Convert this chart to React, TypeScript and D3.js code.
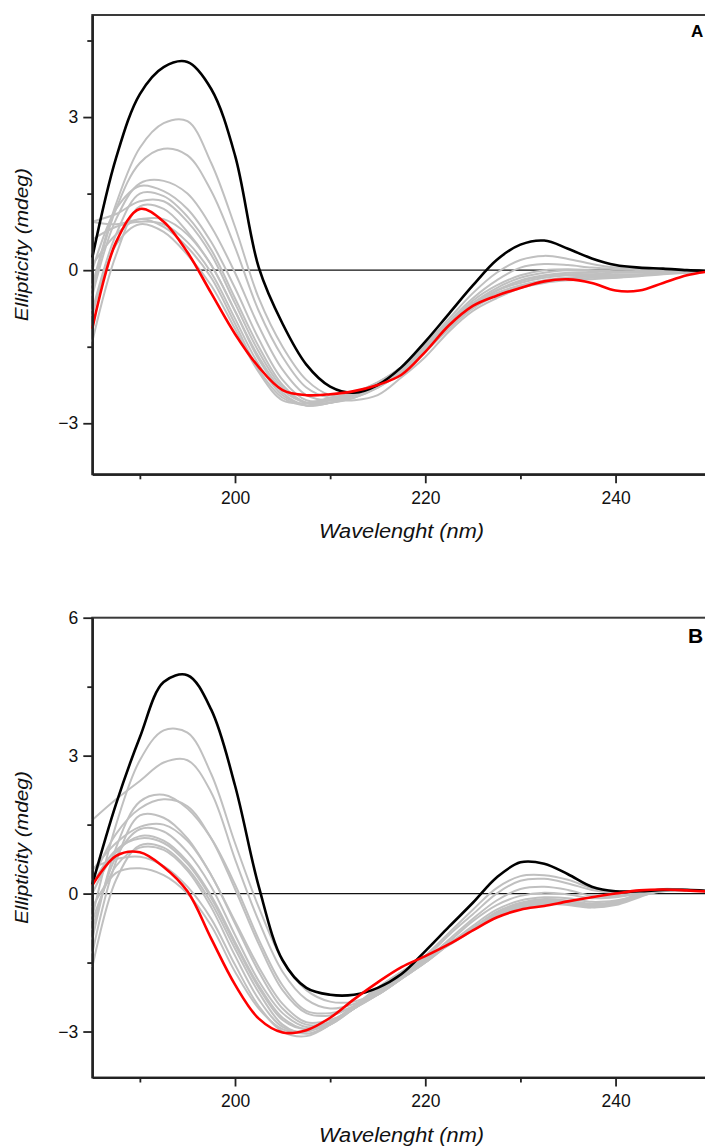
import { useEffect, useRef } from 'react';
import * as d3 from 'd3';

// wavelength grid (nm) shared by every spectrum
const wavelengths = [185, 187.5, 190, 192.5, 195, 197.5, 200, 202.5, 205, 207.5, 210, 212.5, 215, 217.5, 220, 222.5, 225, 227.5, 230, 232.5, 235, 237.5, 240, 242.5, 245, 247.5, 250];

// panel A
const blackA = [0.25, 2.2, 3.45, 3.98, 4.08, 3.55, 2.25, 0.05, -1.05, -1.85, -2.28, -2.4, -2.25, -1.9, -1.4, -0.85, -0.3, 0.2, 0.5, 0.58, 0.42, 0.23, 0.1, 0.05, 0.03, 0.0, -0.02];
const redA = [-1.15, 0.55, 1.2, 0.95, 0.35, -0.45, -1.25, -1.9, -2.35, -2.45, -2.43, -2.37, -2.25, -2.05, -1.6, -1.08, -0.7, -0.5, -0.35, -0.22, -0.18, -0.25, -0.4, -0.4, -0.25, -0.1, -0.02];
const grayA1 = [-0.3, 1.3, 2.4, 2.88, 2.92, 2.1, 0.85, -0.55, -1.5, -2.15, -2.45, -2.45, -2.25, -1.9, -1.45, -0.95, -0.45, -0.05, 0.2, 0.28, 0.22, 0.12, 0.05, 0.02, 0.0, -0.02, -0.03];
const grayA2 = [-0.4, 1.2, 2.1, 2.38, 2.25, 1.55, 0.45, -0.8, -1.7, -2.3, -2.5, -2.45, -2.25, -1.9, -1.5, -1.0, -0.55, -0.2, 0.05, 0.12, 0.1, 0.05, 0.02, 0.0, -0.02, -0.03, -0.03];
const grayA3 = [-0.5, 1.0, 1.7, 1.75, 1.5, 0.85, -0.05, -1.1, -1.95, -2.45, -2.55, -2.45, -2.25, -1.95, -1.55, -1.05, -0.6, -0.3, -0.1, 0.0, 0.02, 0.0, -0.02, -0.03, -0.04, -0.04, -0.03];
const grayA4 = [0.0, 1.2, 1.65, 1.55, 1.2, 0.55, -0.35, -1.35, -2.15, -2.55, -2.55, -2.45, -2.25, -1.95, -1.55, -1.1, -0.65, -0.35, -0.15, -0.05, 0.0, -0.02, -0.05, -0.05, -0.05, -0.04, -0.03];
const grayA5 = [-0.8, 0.7, 1.5, 1.45, 1.05, 0.4, -0.55, -1.5, -2.25, -2.6, -2.6, -2.5, -2.3, -2.0, -1.6, -1.1, -0.7, -0.4, -0.2, -0.1, -0.05, -0.05, -0.08, -0.08, -0.05, -0.03, -0.02];
const grayA6 = [0.95, 1.1, 1.35, 1.35, 0.95, 0.3, -0.65, -1.6, -2.3, -2.6, -2.6, -2.45, -2.25, -1.95, -1.55, -1.1, -0.7, -0.4, -0.22, -0.12, -0.08, -0.08, -0.1, -0.1, -0.06, -0.04, -0.03];
const grayA7 = [-1.4, 0.3, 1.25, 1.2, 0.75, 0.1, -0.8, -1.7, -2.35, -2.6, -2.55, -2.4, -2.2, -1.9, -1.5, -1.05, -0.65, -0.4, -0.25, -0.15, -0.1, -0.1, -0.12, -0.1, -0.07, -0.04, -0.02];
const grayA8 = [0.95, 0.9, 1.0, 1.0, 0.7, 0.1, -0.8, -1.75, -2.4, -2.65, -2.6, -2.45, -2.25, -1.95, -1.55, -1.1, -0.7, -0.45, -0.3, -0.2, -0.15, -0.12, -0.12, -0.1, -0.06, -0.04, -0.02];
const grayA9 = [0.6, 0.85, 0.95, 0.9, 0.55, -0.05, -0.95, -1.85, -2.45, -2.65, -2.6, -2.5, -2.3, -2.0, -1.6, -1.15, -0.75, -0.5, -0.32, -0.22, -0.18, -0.15, -0.15, -0.1, -0.06, -0.04, -0.02];
const grayA10 = [0.1, 0.7, 1.0, 0.85, 0.45, -0.15, -1.05, -1.95, -2.5, -2.65, -2.55, -2.55, -2.45, -2.1, -1.7, -1.2, -0.8, -0.55, -0.35, -0.25, -0.2, -0.18, -0.15, -0.12, -0.08, -0.05, -0.03];
const grayA11 = [-0.9, 0.5, 0.9, 0.75, 0.3, -0.3, -1.15, -2.0, -2.55, -2.6, -2.5, -2.4, -2.2, -1.9, -1.5, -1.05, -0.65, -0.45, -0.3, -0.2, -0.15, -0.12, -0.12, -0.1, -0.06, -0.04, -0.02];

// panel B
const blackB = [0.2, 1.95, 3.4, 4.6, 4.75, 4.0, 2.35, 0.15, -1.45, -2.05, -2.2, -2.2, -2.05, -1.75, -1.25, -0.72, -0.2, 0.35, 0.68, 0.65, 0.42, 0.15, 0.05, 0.05, 0.08, 0.08, 0.05];
const redB = [0.18, 0.82, 0.9, 0.58, 0.05, -0.98, -1.98, -2.72, -3.02, -2.97, -2.7, -2.3, -1.93, -1.6, -1.36, -1.1, -0.8, -0.52, -0.35, -0.27, -0.17, -0.08, 0.0, 0.07, 0.09, 0.07, 0.04];
const grayB1 = [-0.5, 1.5, 2.9, 3.55, 3.5, 2.6, 1.1, -0.3, -1.45, -2.1, -2.35, -2.35, -2.15, -1.8, -1.35, -0.85, -0.35, 0.12, 0.38, 0.4, 0.3, 0.12, 0.05, 0.05, 0.08, 0.08, 0.05];
const grayB2 = [1.6, 2.05, 2.45, 2.85, 2.9, 2.2, 0.75, -0.6, -1.7, -2.3, -2.5, -2.4, -2.15, -1.8, -1.4, -0.9, -0.45, 0.0, 0.28, 0.32, 0.22, 0.08, 0.02, 0.05, 0.08, 0.08, 0.05];
const grayB3 = [-1.0, 1.0, 2.0, 2.15, 1.85, 1.2, 0.2, -1.0, -2.0, -2.55, -2.6, -2.45, -2.2, -1.85, -1.45, -1.0, -0.55, -0.15, 0.1, 0.15, 0.08, -0.05, -0.05, 0.02, 0.06, 0.07, 0.05];
const grayB4 = [0.3, 1.3, 1.85, 2.05, 1.9, 1.2, 0.1, -1.1, -2.1, -2.6, -2.65, -2.45, -2.2, -1.85, -1.5, -1.05, -0.6, -0.25, -0.05, 0.02, -0.02, -0.1, -0.08, 0.0, 0.05, 0.07, 0.05];
const grayB5 = [-1.3, 0.7, 1.7, 1.65, 1.2, 0.4, -0.6, -1.6, -2.4, -2.8, -2.75, -2.5, -2.2, -1.85, -1.5, -1.1, -0.7, -0.35, -0.15, -0.08, -0.1, -0.18, -0.15, -0.05, 0.05, 0.07, 0.05];
const grayB6 = [0.5, 1.1, 1.45, 1.5, 1.15, 0.4, -0.65, -1.7, -2.5, -2.85, -2.8, -2.5, -2.2, -1.85, -1.5, -1.1, -0.75, -0.4, -0.2, -0.12, -0.15, -0.22, -0.18, -0.05, 0.06, 0.08, 0.05];
const grayB7 = [-0.8, 0.8, 1.4, 1.35, 0.9, 0.15, -0.9, -1.9, -2.6, -2.9, -2.8, -2.5, -2.15, -1.8, -1.45, -1.1, -0.75, -0.42, -0.22, -0.15, -0.18, -0.25, -0.2, -0.05, 0.07, 0.08, 0.05];
const grayB8 = [0.0, 0.9, 1.25, 1.15, 0.7, -0.05, -1.05, -2.0, -2.7, -2.95, -2.85, -2.5, -2.15, -1.8, -1.45, -1.1, -0.75, -0.45, -0.25, -0.18, -0.2, -0.28, -0.22, -0.05, 0.08, 0.08, 0.05];
const grayB9 = [-1.6, 0.3, 1.05, 1.0, 0.55, -0.2, -1.2, -2.15, -2.85, -3.05, -2.85, -2.5, -2.1, -1.75, -1.4, -1.1, -0.78, -0.48, -0.28, -0.2, -0.22, -0.3, -0.25, -0.08, 0.08, 0.08, 0.05];
const grayB10 = [0.55, 0.75, 0.8, 0.6, 0.15, -0.55, -1.55, -2.45, -3.0, -3.1, -2.85, -2.45, -2.05, -1.7, -1.38, -1.1, -0.78, -0.5, -0.3, -0.22, -0.25, -0.3, -0.22, -0.05, 0.08, 0.08, 0.05];
const grayB11 = [-0.3, 0.45, 0.55, 0.4, 0.0, -0.7, -1.7, -2.5, -2.95, -3.0, -2.8, -2.45, -2.05, -1.7, -1.4, -1.12, -0.8, -0.5, -0.32, -0.25, -0.22, -0.25, -0.18, 0.0, 0.1, 0.08, 0.05];
const grayB12 = [-0.6, 0.6, 1.0, 0.95, 0.5, -0.3, -1.35, -2.3, -2.9, -3.0, -2.8, -2.45, -2.1, -1.75, -1.4, -1.08, -0.75, -0.45, -0.25, -0.18, -0.2, -0.26, -0.2, -0.03, 0.08, 0.08, 0.05];
const grayB13 = [0.2, 0.95, 1.2, 1.1, 0.65, -0.1, -1.1, -2.05, -2.75, -2.95, -2.8, -2.5, -2.15, -1.8, -1.45, -1.1, -0.75, -0.45, -0.25, -0.16, -0.18, -0.25, -0.2, -0.05, 0.08, 0.08, 0.05];

// axes
const xDomain = [185, 250];
const xMajorTicks = [200, 220, 240];
const xMinorTicks = [190, 210, 230, 250];
const yDomainA = [-4, 5];
const yDomainB = [-4, 6];
const yMajorTicksA = [-3, 0, 3];
const yMajorTicksB = [-3, 0, 3, 6];
const yMinorTicks = [-1.5, 1.5, 4.5];
const xTitle = 'Wavelenght (nm)';
const yTitle = 'Ellipticity (mdeg)';

const FONT = '"Liberation Sans", Arial, Helvetica, sans-serif';

export default function App() {
  const svgRef = useRef(null);

  useEffect(() => {
    const svg = d3.select(svgRef.current);
    svg.selectAll('*').remove();

    const left = 92.3;
    const right = 710.7;

    const panels = [
      { label: 'A', labelX: 691, labelY: 37, labelSize: 17, top: 15, bottom: 474.3, yDomain: yDomainA, majors: yMajorTicksA, black: blackA, red: redA, grays: [grayA1, grayA2, grayA3, grayA4, grayA5, grayA6, grayA7, grayA8, grayA9, grayA10, grayA11] },
      { label: 'B', labelX: 688, labelY: 643, labelSize: 21, top: 617.7, bottom: 1077.5, yDomain: yDomainB, majors: yMajorTicksB, black: blackB, red: redB, grays: [grayB1, grayB2, grayB3, grayB4, grayB5, grayB6, grayB7, grayB8, grayB9, grayB10, grayB11, grayB12, grayB13] },
    ];

    const xScale = d3.scaleLinear().domain(xDomain).range([left, right]);

    panels.forEach((p) => {
      const yScale = d3.scaleLinear().domain(p.yDomain).range([p.bottom, p.top]);
      const g = svg.append('g');

      // frame
      g.append('rect')
        .attr('x', left)
        .attr('y', p.top)
        .attr('width', right - left)
        .attr('height', p.bottom - p.top)
        .attr('fill', 'none')
        .attr('stroke', '#3a3a3a')
        .attr('stroke-width', 2);

      // zero line
      g.append('line')
        .attr('x1', left)
        .attr('x2', right)
        .attr('y1', yScale(0))
        .attr('y2', yScale(0))
        .attr('stroke', '#111')
        .attr('stroke-width', 1.2);

      const line = d3
        .line<number>()
        .x((_, i) => xScale(wavelengths[i]))
        .y((d) => yScale(d))
        .curve(d3.curveCatmullRom.alpha(0.5));

      const curves = g.append('g').attr('fill', 'none').attr('stroke-linejoin', 'round');
      curves
        .selectAll('.gray')
        .data(p.grays)
        .join('path')
        .attr('class', 'gray')
        .attr('d', line)
        .attr('stroke', '#c0c0c0')
        .attr('stroke-width', 2);
      curves.append('path').attr('d', line(p.black)).attr('stroke', '#000').attr('stroke-width', 2.6);
      curves.append('path').attr('d', line(p.red)).attr('stroke', '#ff0000').attr('stroke-width', 2.6);

      // axes
      const xAxis = g
        .append('g')
        .attr('transform', `translate(0, ${p.bottom})`)
        .call(d3.axisBottom(xScale).tickValues(xMajorTicks).tickSize(9).tickSizeOuter(0).tickPadding(8).tickFormat(d3.format('d')));
      const xMinor = g
        .append('g')
        .attr('transform', `translate(0, ${p.bottom})`)
        .call(d3.axisBottom(xScale).tickValues(xMinorTicks).tickSize(5).tickSizeOuter(0).tickFormat(() => ''));
      const yAxis = g
        .append('g')
        .attr('transform', `translate(${left}, 0)`)
        .call(d3.axisLeft(yScale).tickValues(p.majors).tickSize(9).tickSizeOuter(0).tickPadding(5).tickFormat(d3.format('d')));
      const yMinor = g
        .append('g')
        .attr('transform', `translate(${left}, 0)`)
        .call(d3.axisLeft(yScale).tickValues(yMinorTicks.filter((t) => t < p.yDomain[1])).tickSize(5).tickSizeOuter(0).tickFormat(() => ''));

      [xAxis, xMinor, yAxis, yMinor].forEach((a) => {
        a.select('.domain').attr('stroke', '#222').attr('stroke-width', 2);
        a.selectAll('.tick line').attr('stroke', '#222').attr('stroke-width', 1.8);
        a.selectAll('text').attr('font-family', FONT).attr('font-size', 17.5).attr('fill', '#111');
      });

      // titles
      g.append('text')
        .attr('x', (left + right) / 2)
        .attr('y', p.bottom + 64)
        .attr('text-anchor', 'middle')
        .attr('font-family', FONT)
        .attr('font-style', 'italic')
        .attr('font-size', 19.5)
        .attr('textLength', 165)
        .attr('lengthAdjust', 'spacingAndGlyphs')
        .attr('fill', '#111')
        .text(xTitle);

      g.append('text')
        .attr('transform', `translate(28, ${(p.top + p.bottom) / 2}) rotate(-90)`)
        .attr('text-anchor', 'middle')
        .attr('font-family', FONT)
        .attr('font-style', 'italic')
        .attr('font-size', 19)
        .attr('textLength', 153)
        .attr('lengthAdjust', 'spacingAndGlyphs')
        .attr('fill', '#111')
        .text(yTitle);

      g.append('text')
        .attr('x', p.labelX)
        .attr('y', p.labelY)
        .attr('font-family', FONT)
        .attr('font-weight', 'bold')
        .attr('font-size', p.labelSize)
        .attr('fill', '#000')
        .text(p.label);
    });
  }, []);

  return (
    <div style={{ position: 'absolute', left: 0, top: 0 }}>
      <svg ref={svgRef} width={705} height={1146} style={{ display: 'block' }} />
    </div>
  );
}
